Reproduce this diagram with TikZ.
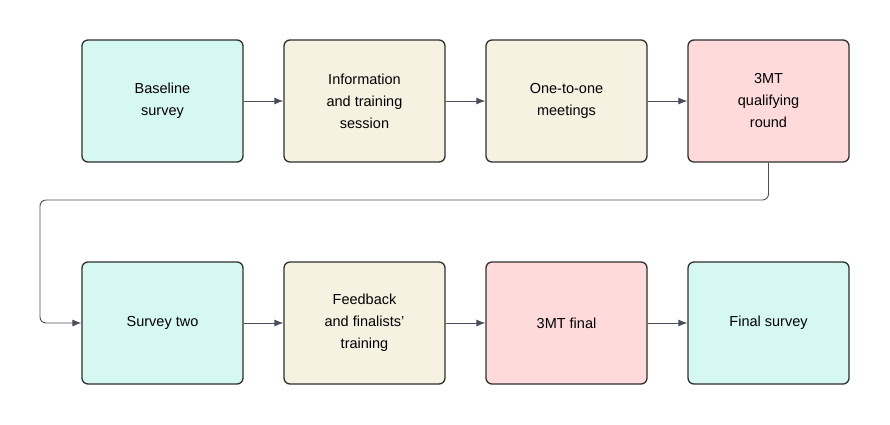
\documentclass[tikz,border=0pt]{standalone}
\usepackage{fontspec}
\setmainfont{Liberation Sans}
\usetikzlibrary{arrows.meta}
\definecolor{teal}{HTML}{D6F8F3}
\definecolor{beige}{HTML}{F6F2E2}
\definecolor{pink}{HTML}{FFDADB}
\definecolor{edge}{HTML}{2E2E2E}
\definecolor{arr}{HTML}{4A4E5A}
\begin{document}
\begin{tikzpicture}[x=1pt,y=-1pt,
  box/.style={draw=edge,line width=1.3pt,rounded corners=6pt,minimum width=161pt,minimum height=122pt,align=center,font=\fontsize{14.5}{22}\selectfont,inner sep=2pt},
  conn/.style={draw=arr,line width=0.9pt,-{Latex[length=9pt,width=7pt]}}]
\useasboundingbox (0,0) rectangle (890,424);
\node[box,fill=teal] (a) at (162.5,101) {Baseline\\survey};
\node[box,fill=beige] (b) at (364.5,101) {Information\\and training\\session};
\node[box,fill=beige] (c) at (566.5,101) {One-to-one\\meetings};
\node[box,fill=pink] (d) at (768.5,101) {3MT\\qualifying\\round};
\node[box,fill=teal] (e) at (162.5,323) {Survey two};
\node[box,fill=beige] (f) at (364.5,323) {Feedback\\and finalists'\\training};
\node[box,fill=pink] (g) at (566.5,323) {3MT final};
\node[box,fill=teal] (h) at (768.5,323) {Final survey};
\draw[conn] (a) -- (b);
\draw[conn] (b) -- (c);
\draw[conn] (c) -- (d);
\draw[conn] (e) -- (f);
\draw[conn] (f) -- (g);
\draw[conn] (g) -- (h);
\coordinate (k1) at (768.5,200);
\coordinate (k2) at (40,200);
\coordinate (k3) at (40,323);
\draw[conn,rounded corners=6pt] (d.south) -- (k1) -- (k2) -- (k3) -- (e.west);
\end{tikzpicture}
\end{document}
